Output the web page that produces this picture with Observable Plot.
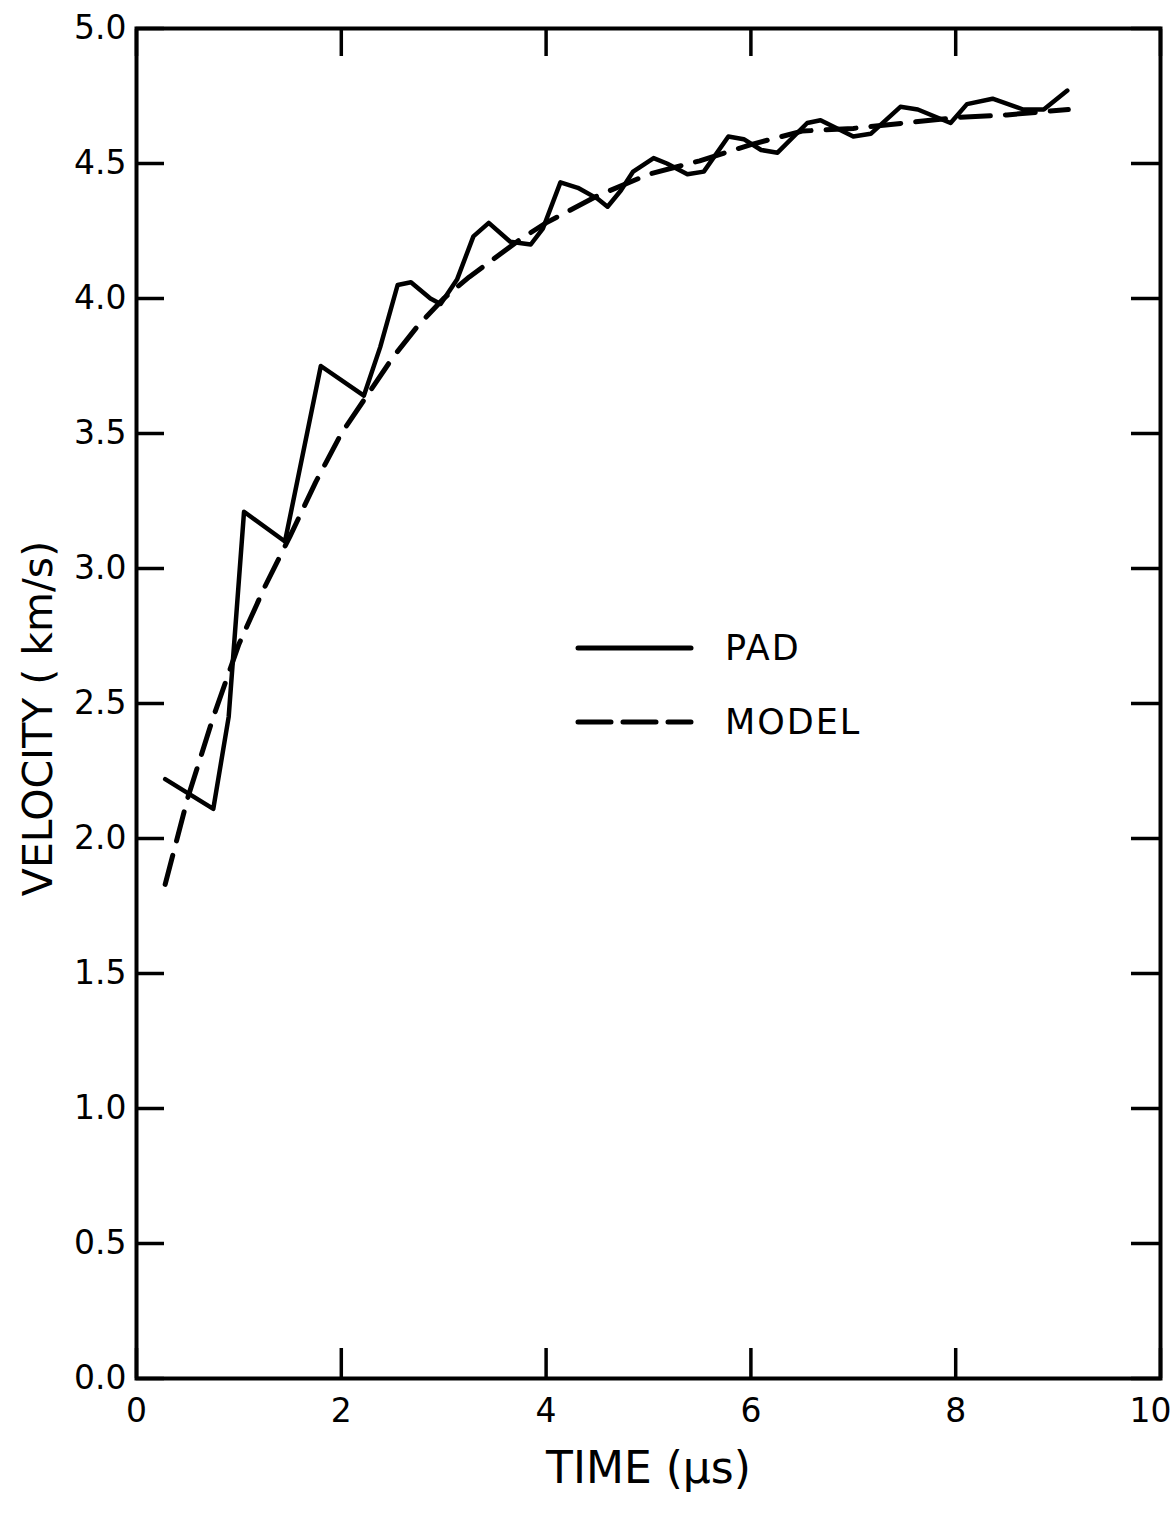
<!DOCTYPE html>
<html>
<head>
<meta charset="utf-8">
<script src="https://cdn.jsdelivr.net/npm/d3@7"></script>
<script src="https://cdn.jsdelivr.net/npm/@observablehq/plot@0.6"></script>
<style>
  html, body { margin: 0; padding: 0; background: #fff; }
  #wrap { position: relative; width: 1176px; height: 1520px; }
  .legend { position: absolute; font-family: "DejaVu Sans", sans-serif; font-size: 35px; letter-spacing: 2px; color: #000; }
  .legend .item { position: absolute; display: flex; align-items: center; white-space: nowrap; }
  .legend svg { display: block; }
</style>
</head>
<body>
<div id="wrap"></div>
<script>
// PAD measurement (solid)
const padTime = [0.28, 0.75, 0.90, 1.05, 1.45, 1.80, 2.22, 2.38, 2.55, 2.68, 2.87, 2.97, 3.13, 3.29, 3.44, 3.65, 3.85, 3.97, 4.14, 4.31, 4.50, 4.60, 4.73, 4.85, 5.05, 5.18, 5.38, 5.54, 5.78, 5.93, 6.10, 6.26, 6.55, 6.68, 7.00, 7.17, 7.46, 7.63, 7.95, 8.11, 8.36, 8.66, 8.86, 9.09];
const padVel  = [2.22, 2.11, 2.45, 3.21, 3.10, 3.75, 3.64, 3.82, 4.05, 4.06, 4.00, 3.98, 4.07, 4.23, 4.28, 4.21, 4.20, 4.26, 4.43, 4.41, 4.37, 4.34, 4.40, 4.47, 4.52, 4.50, 4.46, 4.47, 4.60, 4.59, 4.55, 4.54, 4.65, 4.66, 4.60, 4.61, 4.71, 4.70, 4.65, 4.72, 4.74, 4.70, 4.70, 4.77];
// MODEL (dashed)
const modelTime = [0.28, 0.50, 0.75, 1.00, 1.25, 1.50, 1.75, 2.00, 2.25, 2.50, 2.75, 3.00, 3.25, 3.50, 3.75, 4.00, 4.50, 5.00, 5.50, 6.00, 6.50, 7.00, 7.50, 8.00, 8.50, 9.10];
const modelVel  = [1.83, 2.15, 2.45, 2.72, 2.93, 3.12, 3.32, 3.50, 3.64, 3.78, 3.90, 4.00, 4.08, 4.15, 4.22, 4.28, 4.38, 4.46, 4.51, 4.57, 4.62, 4.63, 4.65, 4.67, 4.68, 4.70];

const xTicks = [0, 2, 4, 6, 8, 10];
const yTicks = [0, 0.5, 1.0, 1.5, 2.0, 2.5, 3.0, 3.5, 4.0, 4.5, 5.0];
const xLabel = "TIME (µs)";
const yLabel = "VELOCITY ( km/s)";
const legendLabels = ["PAD", "MODEL"];

const pad = padTime.map((t, i) => ({t, v: padVel[i]}));
const model = modelTime.map((t, i) => ({t, v: modelVel[i]}));

const DASH = "30,15";
const xMax = d3.max(xTicks);

const chart = Plot.plot({
  width: 1176,
  height: 1520,
  marginLeft: 136,
  marginRight: 16,
  marginTop: 28,
  marginBottom: 142,
  style: {fontFamily: "DejaVu Sans, sans-serif", background: "#fff", color: "#000"},
  x: {domain: [0, 10]},
  y: {domain: [0, 5]},
  marks: [
    Plot.frame({stroke: "#000", strokeWidth: 4}),
    Plot.axisY(yTicks, {anchor: "left", tickSize: -28, tickPadding: 38, strokeWidth: 3.5, fontSize: 33, tickFormat: d3.format(".1f"), label: null}),
    Plot.axisY(yTicks, {anchor: "right", tickSize: -30, strokeWidth: 3.5, tickFormat: () => "", label: null}),
    Plot.axisX(xTicks, {anchor: "bottom", tickSize: -30, strokeWidth: 3.5, tickFormat: () => "", label: null}),
    Plot.axisX(xTicks.filter(d => d < xMax), {anchor: "bottom", tickSize: 0, tickPadding: 20, fontSize: 33, tickFormat: d3.format("d"), label: null}),
    Plot.axisX(xTicks.filter(d => d === xMax), {anchor: "bottom", tickSize: 0, tickPadding: 20, dx: -10, fontSize: 33, tickFormat: d3.format("d"), label: null}),
    Plot.axisX(xTicks, {anchor: "top", tickSize: -27, strokeWidth: 3.5, tickFormat: () => "", label: null}),
    Plot.text([yLabel], {frameAnchor: "left", textAnchor: "middle", lineAnchor: "middle", dx: -98, dy: 15, rotate: -90, fontSize: 41, text: d => d}),
    Plot.text([xLabel], {frameAnchor: "bottom", textAnchor: "middle", lineAnchor: "middle", dy: 90, fontSize: 44, text: d => d}),
    Plot.line(model, {x: "t", y: "v", stroke: "#000", strokeWidth: 5, strokeDasharray: DASH, strokeLinecap: "round"}),
    Plot.line(pad, {x: "t", y: "v", stroke: "#000", strokeWidth: 4.5, strokeLinejoin: "round", strokeLinecap: "round"})
  ]
});

const wrap = document.getElementById("wrap");
wrap.appendChild(chart);

// Legend overlay
const legend = document.createElement("div");
legend.className = "legend";
legend.style.left = "573px";
legend.style.top = "620px";
wrap.appendChild(legend);
legendLabels.forEach((lab, i) => {
  const item = document.createElement("div");
  item.className = "item";
  item.style.top = (i * 74) + "px";
  item.style.left = "0px";
  item.style.height = "56px";
  const svg = d3.create("svg").attr("width", 152).attr("height", 56);
  svg.append("line")
    .attr("x1", 5).attr("x2", 118).attr("y1", 28).attr("y2", 28)
    .attr("stroke", "#000").attr("stroke-width", 5).attr("stroke-linecap", "round")
    .attr("stroke-dasharray", i === 0 ? null : "33,12");
  item.appendChild(svg.node());
  const span = document.createElement("span");
  span.textContent = lab;
  item.appendChild(span);
  legend.appendChild(item);
});
</script>
</body>
</html>
